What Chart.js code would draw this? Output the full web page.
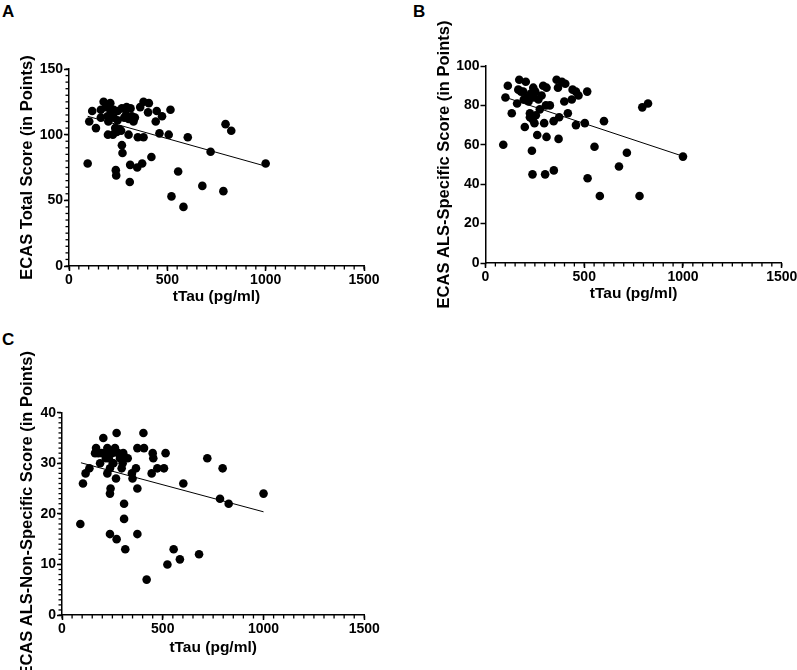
<!DOCTYPE html>
<html>
<head>
<title>ECAS scores vs tTau</title>
<script src="https://cdn.jsdelivr.net/npm/chart.js"></script>
<style>
  body { margin: 0; background: #fff; width: 797px; height: 670px; overflow: hidden; position: relative;
         font-family: "Liberation Sans", Arial, sans-serif; }
  canvas { position: absolute; }
  .letter { position: absolute; font-weight: bold; font-size: 17px; line-height: 17px; color: #000; }
</style>
</head>
<body>
<div class="letter" style="left:2px; top:3px;">A</div>
<div class="letter" style="left:413px; top:3px;">B</div>
<div class="letter" style="left:2px; top:331px;">C</div>
<canvas id="chartA" width="398" height="312" style="left:0; top:0;"></canvas>
<canvas id="chartB" width="420" height="312" style="left:400px; top:0;"></canvas>
<canvas id="chartC" width="398" height="340" style="left:0; top:330px;"></canvas>
<script>
// tick labels
var xTicks = [0, 500, 1000, 1500];
var yTicksA = [0, 50, 100, 150];
var yTicksB = [0, 20, 40, 60, 80, 100];
var yTicksC = [0, 10, 20, 30, 40];

// A: ECAS total score
var tauA = [95,103,118,137,162,162,176,189,196,198,210,212,223,227,227,243,247,247,257,269,
            269,272,281,293,303,303,313,328,238,240,311,309,347,350,362,372,379,379,402,406,
            419,441,446,460,473,507,516,521,555,582,604,678,720,785,796,825,1000,200,235,320,
            335,290,265];
var totalA = [78,110,118,105,113,119,125,121,114,100,124,118,100,119,113,102,118,111,104,120,
              92,86,113,121,112,100,120,110,73,69,77,64,75,98,121,78,125,98,117,124,
              83,110,118,101,114,100,119,53,72,45,98,61,87,57,108,103,78,110,105,114,
              113,115,103];
var fitTauA = [95, 1000];
var fitA = [114, 76];

// B: ALS-specific score
var tauB = [90,101,113,133,160,171,166,204,191,194,199,218,225,230,242,245,225,238,248,255,
            275,262,235,238,292,284,306,309,297,309,302,326,345,346,360,367,373,370,387,404,
            399,417,441,437,458,471,458,503,515,517,552,579,600,676,716,780,794,823,1000,180,
            213,252,268];
var alsB = [60,84,90,76,81,93,88,92,87,83,69,82,76,86,89,84,74,73,71,75,
            78,65,57,45,90,85,80,89,71,64,45,80,72,47,93,89,74,63,92,91,
            82,76,88,83,87,85,70,71,87,43,59,34,72,49,56,34,79,81,54,87,
            84,87,83];
var fitTauB = [92, 1000];
var fitB = [84.4, 54.2];

// C: ALS-non-specific score
var tauC = [91,104,117,136,169,164,189,205,197,225,218,225,238,241,238,238,248,255,263,271,
            268,271,279,288,296,304,308,308,314,326,301,347,350,367,374,374,374,404,407,420,
            450,453,445,473,506,514,523,554,585,602,680,721,784,797,827,1000,180,212,232,252];
var nonC = [18,26,28,29,33,32,30,35,32,33,31,28,29,25,24,16,32,30,33,36,
            27,15,32,31,29,32,22,19,13,31,30,28,27,29,33,25,16,36,33,7,
            32,31,28,29,29,32,10,13,11,26,12,31,23,29,22,24,32,32,31,30];
var fitTauC = [94, 1000];
var fitC = [30.1, 20.4];

var FONT = '"Liberation Sans", Arial, sans-serif';

// small unlabelled ticks between the major ones (steps captured per chart)
function minorTicks(xStep, yStep) {
    return {
        id: 'minorTicks',
        afterDraw: function(chart) {
            var ctx = chart.ctx;
            ctx.save();
            ctx.strokeStyle = '#000';
            ctx.lineWidth = 1.3;
            [['x', xStep], ['y', yStep]].forEach(function(a) {
                var s = chart.scales[a[0]], step = a[1];
                if (!step) return;
                for (var v = s.min; v <= s.max + 1e-9; v += step) {
                    var p = s.getPixelForValue(v);
                    ctx.beginPath();
                    if (a[0] === 'x') { ctx.moveTo(p, s.top); ctx.lineTo(p, s.top + 3.5); }
                    else { ctx.moveTo(s.right, p); ctx.lineTo(s.right - 3.5, p); }
                    ctx.stroke();
                }
            });
            ctx.restore();
        }
    };
}

function axisStyle() {
    return {
        grid: { display: true, drawOnChartArea: false, drawTicks: true, tickLength: 5, tickColor: '#000', tickWidth: 1.5 },
        border: { display: true, color: '#000', width: 1.5 },
        ticks: { color: '#000', font: { family: FONT, size: 14, weight: 'bold' }, padding: 1,
                 maxRotation: 0, autoSkip: false,
                 callback: function(v) { return String(v); } }
    };
}

function makePanel(id, p) {
    var cv = document.getElementById(id);
    var W = cv.width, H = cv.height;
    var xs = axisStyle(), ys = axisStyle();
    xs.type = 'linear'; xs.min = 0; xs.max = 1500;
    xs.afterFit = function(s) { s.height = H - p.bottom; };
    xs.afterBuildTicks = function(s) { s.ticks = xTicks.map(function(v) { return { value: v }; }); };
    xs.title = { display: true, text: 'tTau (pg/ml)', color: '#000',
                 font: { family: FONT, size: 15.5, weight: 'bold' },
                 padding: { top: 0, bottom: H - p.bottom - p.xTitleGap - 15.5 * 0.6 } };
    ys.type = 'linear'; ys.min = 0; ys.max = p.yTicks[p.yTicks.length - 1];
    ys.afterFit = function(s) { s.width = p.left; };
    ys.afterBuildTicks = function(s) { s.ticks = p.yTicks.map(function(v) { return { value: v }; }); };
    ys.title = { display: true, text: p.yTitle, color: '#000',
                 font: { family: FONT, size: 16.5, weight: 'bold' },
                 padding: { top: p.yTitleX - 16.5 * 0.6, bottom: 0 } };

    return new Chart(cv, {
        type: 'scatter',
        data: {
            datasets: [{
                data: p.tau.map(function(x, i) { return { x: x, y: p.score[i] }; }),
                pointRadius: 4.3, pointBackgroundColor: '#000', pointBorderWidth: 0, order: 1
            }, {
                data: p.fitTau.map(function(x, i) { return { x: x, y: p.fit[i] }; }),
                showLine: true, borderColor: '#000', borderWidth: 1, pointRadius: 0, order: 0
            }]
        },
        options: {
            responsive: false,
            animation: false,
            layout: { padding: { left: 0, top: p.top, right: W - p.right, bottom: 0 } },
            plugins: { legend: { display: false }, tooltip: { enabled: false } },
            scales: { x: xs, y: ys }
        },
        plugins: [minorTicks(50, p.yMinor)]
    });
}

makePanel('chartA', { tau: tauA, score: totalA, fitTau: fitTauA, fit: fitA, yTicks: yTicksA, yMinor: 5,
    yTitle: 'ECAS Total Score (in Points)', left: 69, right: 364, top: 69, bottom: 266, xTitleGap: 30.5, yTitleX: 27 });
makePanel('chartB', { tau: tauB, score: alsB, fitTau: fitTauB, fit: fitB, yTicks: yTicksB, yMinor: 0,
    yTitle: 'ECAS ALS-Specific Score (in Points)', left: 85.5, right: 381.7, top: 66, bottom: 263, xTitleGap: 30.5, yTitleX: 44 });
makePanel('chartC', { tau: tauC, score: nonC, fitTau: fitTauC, fit: fitC, yTicks: yTicksC, yMinor: 1,
    yTitle: 'ECAS ALS-Non-Specific Score (in Points)', left: 62, right: 364.3, top: 82.7, bottom: 285, xTitleGap: 33, yTitleX: 27 });
</script>
</body>
</html>
